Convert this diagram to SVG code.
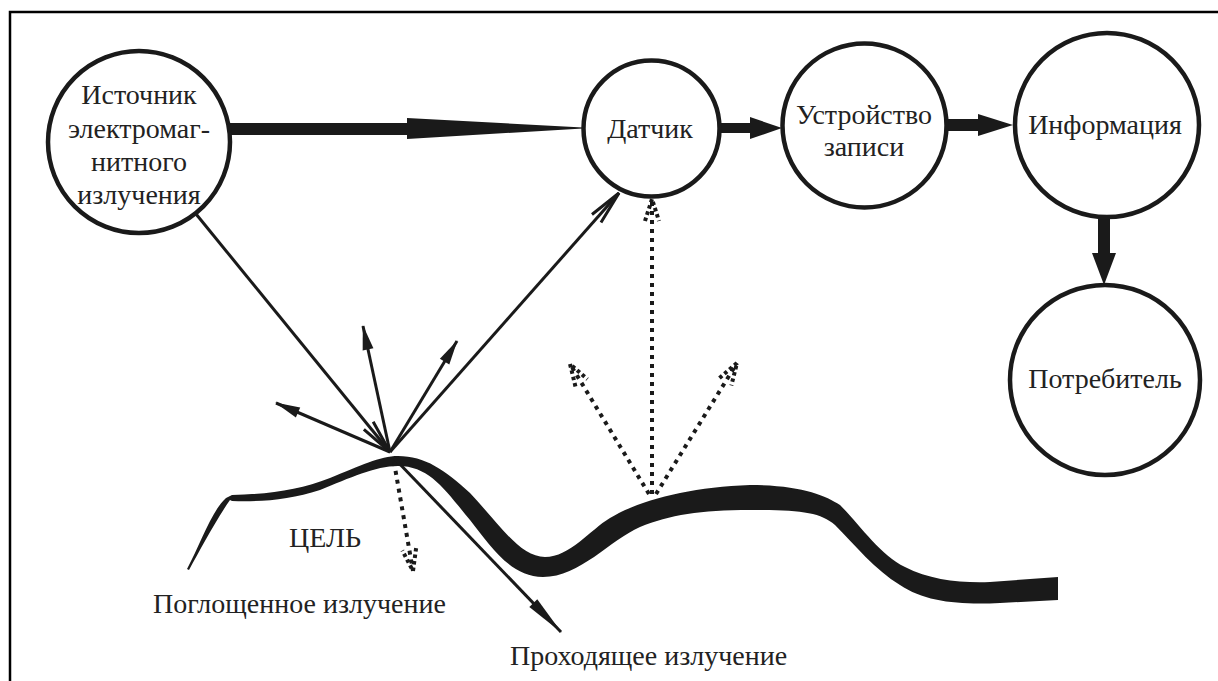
<svg xmlns="http://www.w3.org/2000/svg" width="1218" height="681" viewBox="0 0 1218 681">
<style>
  .node circle { fill: #fff; stroke: #1a1a1a; stroke-width: 4.5; }
  .lbl { font-family: "Liberation Serif", "Times New Roman", serif; font-size: 28px; fill: #222; text-anchor: middle; }
  .free { font-family: "Liberation Serif", "Times New Roman", serif; font-size: 28px; fill: #222; }
  .ray { stroke: #1a1a1a; stroke-width: 3; fill: none; }
  .dot { stroke: #1a1a1a; stroke-width: 4; fill: none; stroke-dasharray: 4 5; }
  .thick { fill: #1a1a1a; }
</style>
<defs>
  <marker id="fh" markerUnits="userSpaceOnUse" viewBox="-26 -7 28 14" refX="0" refY="0" markerWidth="28" markerHeight="14" orient="auto">
    <path d="M1,0 L-24,-5.5 L-24,5.5 Z" fill="#1a1a1a"/>
  </marker>
  <marker id="fhLong" markerUnits="userSpaceOnUse" viewBox="-42 -7 44 14" refX="0" refY="0" markerWidth="44" markerHeight="14" orient="auto">
    <path d="M1,0 L-40,-5.5 L-40,5.5 Z" fill="#1a1a1a"/>
  </marker>
  <marker id="oh" markerUnits="userSpaceOnUse" viewBox="-36 -9 38 18" refX="0" refY="0" markerWidth="38" markerHeight="18" orient="auto">
    <path d="M-34,-6 L0,0 L-34,6" fill="none" stroke="#1a1a1a" stroke-width="3"/>
  </marker>
  <marker id="dh" markerUnits="userSpaceOnUse" viewBox="-26 -10 28 20" refX="0" refY="0" markerWidth="28" markerHeight="20" orient="auto">
    <path d="M-22,-7 L0,0 L-22,7" fill="none" stroke="#1a1a1a" stroke-width="4" stroke-dasharray="3.5 3"/>
  </marker>
</defs>

<rect x="0" y="0" width="1218" height="681" fill="#fff"/>
<path d="M10,690 L10,12 L1230,12" fill="none" stroke="#000" stroke-width="2.5"/>

<g id="target">
  <path class="thick" d="M187,569 C200,545 212,510 226,498 L232,495 C270,494 300,490 330,478 C360,466 380,456 398,456 C425,456 445,470 470,493 C500,525 520,557 545,557 C570,557 590,530 610,518 C640,500 690,487 750,485 C800,485 825,495 840,505 C860,525 880,555 905,567 C930,580 960,583 990,582 L1058,577 L1058,600 L1000,603 C960,605 925,602 900,585 C875,570 855,545 835,525 C820,512 800,510 750,510 C700,510 670,515 640,527 C610,540 580,577 543,577 C510,577 490,545 470,520 C445,490 430,466 398,466 C375,466 350,478 320,490 C290,500 260,502 232,501 L230,500 C216,520 200,550 189,570 Z"/>
  <text class="lbl" x="325" y="547">ЦЕЛЬ</text>
</g>

<g id="connectors">
  <rect class="thick" x="230" y="123" width="179" height="12"/>
  <polygon class="thick" points="407,118 583,127.5 583,128.5 407,139"/>
  <rect class="thick" x="719" y="123" width="33" height="10"/>
  <polygon class="thick" points="750,117 782,128 750,139"/>
  <rect class="thick" x="946" y="119" width="34" height="12"/>
  <polygon class="thick" points="978,114 1013,125 978,136"/>
  <rect class="thick" x="1098" y="216" width="12" height="39"/>
  <polygon class="thick" points="1092,253 1104,285 1116,253"/>

  <line class="ray" x1="196" y1="214" x2="390" y2="452" marker-end="url(#oh)"/>
  <line class="ray" x1="390" y1="452" x2="276" y2="403" marker-end="url(#fh)"/>
  <line class="ray" x1="390" y1="452" x2="363" y2="326" marker-end="url(#fh)"/>
  <line class="ray" x1="390" y1="452" x2="457" y2="341" marker-end="url(#fh)"/>
  <line class="ray" x1="390" y1="452" x2="619" y2="193" marker-end="url(#oh)"/>
  <line class="ray" x1="394" y1="458" x2="561" y2="632" marker-end="url(#fhLong)"/>
  <line class="dot" x1="394" y1="462" x2="413" y2="571" marker-end="url(#dh)"/>
  <line class="dot" x1="652" y1="494" x2="652" y2="199" marker-end="url(#dh)"/>
  <line class="dot" x1="649" y1="494" x2="570" y2="364" marker-end="url(#dh)"/>
  <line class="dot" x1="656" y1="494" x2="737" y2="363" marker-end="url(#dh)"/>
</g>

<g id="source" class="node">
  <circle cx="139" cy="142" r="91"/>
  <text class="lbl" x="139" y="104">Источник</text>
  <text class="lbl" x="139" y="138">электромаг-</text>
  <text class="lbl" x="139" y="171">нитного</text>
  <text class="lbl" x="139" y="204">излучения</text>
</g>
<g id="sensor" class="node">
  <circle cx="651.5" cy="128.5" r="68"/>
  <text class="lbl" x="650" y="138">Датчик</text>
</g>
<g id="recorder" class="node">
  <circle cx="864.5" cy="125.5" r="82"/>
  <text class="lbl" x="864" y="124">Устройство</text>
  <text class="lbl" x="864" y="156">записи</text>
</g>
<g id="information" class="node">
  <circle cx="1107" cy="125" r="92"/>
  <text class="lbl" x="1105" y="134">Информация</text>
</g>
<g id="consumer" class="node">
  <circle cx="1105" cy="380" r="95"/>
  <text class="lbl" x="1105" y="388">Потребитель</text>
</g>

<g id="labels">
  <text class="free" x="153" y="613">Поглощенное излучение</text>
  <text class="free" x="510" y="665">Проходящее излучение</text>
</g>
</svg>
